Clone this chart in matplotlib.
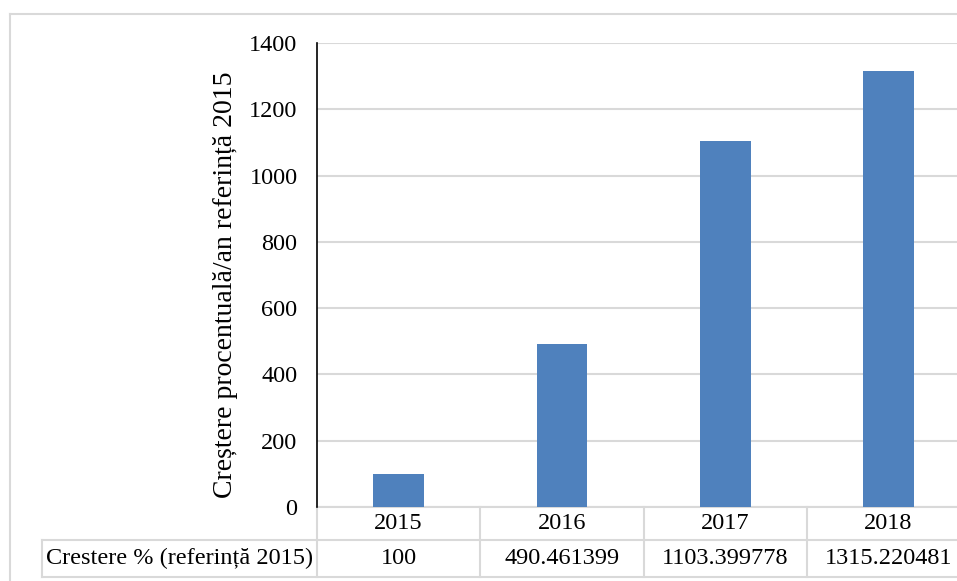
import matplotlib
matplotlib.use('Agg')
import matplotlib.pyplot as plt
import matplotlib.transforms as mtransforms
from matplotlib.lines import Line2D

years = ['2015', '2016', '2017', '2018']
growth = [100, 490.461399, 1103.399778, 1315.220481]
growth_labels = ['100', '490.461399', '1103.399778', '1315.220481']
row_label = 'Crestere % (referință 2015)'
y_label = 'Creștere procentuală/an referință 2015'
y_ticks = [0, 200, 400, 600, 800, 1000, 1200, 1400]

plt.rcParams['font.family'] = ['Liberation Serif', 'DejaVu Serif']
fs = 17.5
W, H = 957, 581

fig = plt.figure(figsize=(W / 100, H / 100), dpi=100)
# plot area in pixels: left 317, top 43, bottom 507, category width ~163.3
left, top, bottom, catw = 317, 43, 507, 163.3
ax = fig.add_axes([left / W, (H - bottom) / H, 4 * catw / W, (bottom - top) / H])

x = list(range(len(years)))
ax.bar(x, growth, width=0.31, color='#4F81BD', zorder=3)
ax.set_xlim(-0.5, 3.5)
ax.set_ylim(0, 1400)
ax.set_yticks(y_ticks)
ax.set_yticklabels([str(t) for t in y_ticks], fontsize=fs)
ax.tick_params(axis='y', length=0, pad=14)
ax.set_xticks([])
ax.grid(axis='y', color='#d9d9d9', linewidth=1.5, zorder=0)
for s in ['top', 'right', 'bottom']:
    ax.spines[s].set_visible(False)
ax.spines['left'].set_color('black')
ax.spines['left'].set_linewidth(1.2)
ax.spines['left'].set_zorder(4)

ax.text((225 - left) / (4 * catw), (bottom - 285) / (bottom - top), y_label,
        transform=ax.transAxes, rotation=90, ha='center', va='center', fontsize=20)

# data table below the plot
tr = mtransforms.blended_transform_factory(ax.transData, ax.transAxes)
ph = bottom - top
r1 = -(540 - bottom) / ph
r2 = -(577 - bottom) / ph
lab_left = -0.5 - (left - 42) / catw
gc = '#d9d9d9'
lw = 1.5
ax.plot([-0.5, 3.5], [0, 0], color=gc, lw=lw, transform=tr, clip_on=False, zorder=2)
ax.plot([lab_left, 3.5], [r1, r1], color=gc, lw=lw, transform=tr, clip_on=False)
ax.plot([lab_left, 3.5], [r2, r2], color=gc, lw=lw, transform=tr, clip_on=False)
for xv in [-0.5, 0.5, 1.5, 2.5, 3.5]:
    ax.plot([xv, xv], [0, r2], color=gc, lw=lw, transform=tr, clip_on=False)
ax.plot([lab_left, lab_left], [r1, r2], color=gc, lw=lw, transform=tr, clip_on=False)

for i in x:
    ax.text(i, (0 + r1) / 2, years[i], transform=tr, ha='center', va='center', fontsize=fs)
    ax.text(i, (r1 + r2) / 2, growth_labels[i], transform=tr, ha='center', va='center', fontsize=fs)
ax.text((lab_left - 0.5) / 2, (r1 + r2) / 2, row_label, transform=tr,
        ha='center', va='center', fontsize=fs)

# outer chart border (left and top visible)
fig.add_artist(Line2D([10 / W, 10 / W], [0, 1 - 14 / H], color=gc, lw=1.5, transform=fig.transFigure))
fig.add_artist(Line2D([10 / W, 1], [1 - 14 / H, 1 - 14 / H], color=gc, lw=1.5, transform=fig.transFigure))

fig.savefig('out.png', dpi=100, facecolor='white')
